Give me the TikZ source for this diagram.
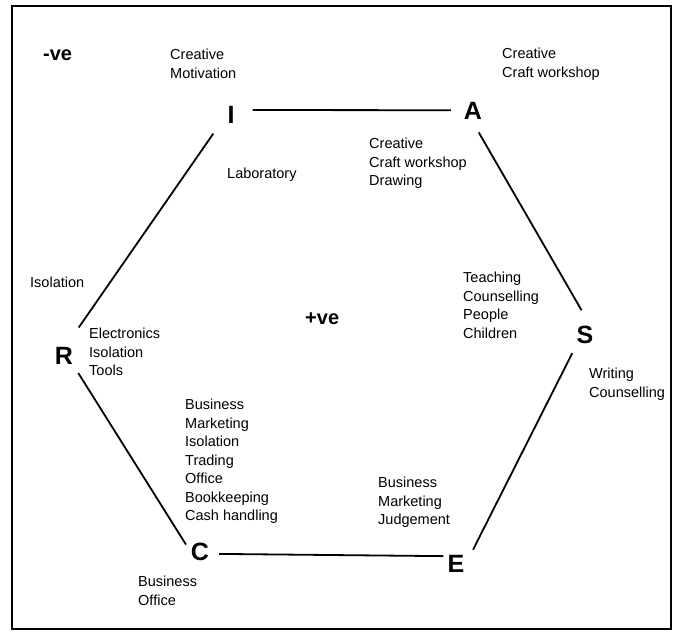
\documentclass[tikz,border=0pt]{standalone}
\usepackage{fontspec}
\setmainfont{Liberation Sans}
\begin{document}
\begin{tikzpicture}[x=1pt,y=-1pt,
  letter/.style={circle, minimum size=44pt, inner sep=0pt, font=\fontsize{25}{25}\selectfont\bfseries},
  lbl/.style={anchor=north west, inner sep=0pt, align=left, font=\fontsize{14.5}{18.5}\selectfont},
  edgeline/.style={line width=1.8pt},
  sign/.style={anchor=west, inner sep=0pt, font=\fontsize{20}{20}\selectfont\bfseries}]
\useasboundingbox (0,0) rectangle (676,635);
\draw[line width=1.3pt] (12,6) rectangle (671,629);
% hexagon letters
\node[letter] (I) at (231,115) {I};
\node[letter] (A) at (473,111) {A};
\node[letter] (S) at (585,335) {S};
\node[letter] (E) at (456,564) {E};
\node[letter] (C) at (200,552) {C};
\node[letter] (R) at (64,356) {R};
% connectors
\draw[edgeline] (I.13) -- (A.178);
\draw[edgeline, shorten <=3.5pt, shorten >=10pt] (I.-135) -- (R.66);
\draw[edgeline, shorten >=-7pt] (R.-50) -- (C.143);
\draw[edgeline, shorten <=-3pt, shorten >=-8pt] (C.-5) -- (E.159);
\draw[edgeline] (E.40) -- (S.-125);
\draw[edgeline, shorten >=3pt] (A.-75) -- (S.95);
% signs
\node[sign] (neg) at (43,55) {-ve};
\node[sign] (pos) at (305,319) {+ve};
% labels
\node[lbl] (l1) at (170,49) {Creative\\Motivation};
\node[lbl] (l2) at (502,48) {Creative\\Craft workshop};
\node[lbl] (l3) at (369,138) {Creative\\Craft workshop\\Drawing};
\node[lbl] (l4) at (227,168) {Laboratory};
\node[lbl] (l5) at (30,277) {Isolation};
\node[lbl] (l6) at (89,328) {Electronics\\Isolation\\Tools};
\node[lbl] (l7) at (463,272) {Teaching\\Counselling\\People\\Children};
\node[lbl] (l8) at (589,368) {Writing\\Counselling};
\node[lbl] (l9) at (185,399) {Business\\Marketing\\Isolation\\Trading\\Office\\Bookkeeping\\Cash handling};
\node[lbl] (l10) at (138,576) {Business\\Office};
\node[lbl] (l11) at (378,477) {Business\\Marketing\\Judgement};
\end{tikzpicture}
\end{document}
